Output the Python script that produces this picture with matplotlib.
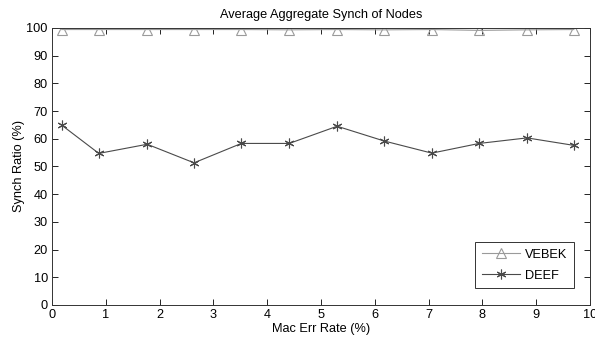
import numpy as np
import matplotlib
matplotlib.use('Agg')
import matplotlib.pyplot as plt

plt.rcParams['font.family'] = ['Liberation Sans', 'DejaVu Sans']

mac_err = [0.18, 0.87, 1.77, 2.64, 3.52, 4.41, 5.30, 6.17, 7.06, 7.94, 8.83, 9.70]
vebek = [99.4, 99.4, 99.4, 99.4, 99.4, 99.3, 99.4, 99.3, 99.4, 99.1, 99.3, 99.4]
deef = [64.9, 54.7, 58.0, 51.3, 58.3, 58.3, 64.5, 59.2, 54.8, 58.3, 60.3, 57.6]

FONT_SIZE = 9.2

fig = plt.figure(figsize=(5.95, 3.4), dpi=100)
ax = fig.add_axes([0.0874, 0.103, 0.9042, 0.815])

ax.plot(mac_err, vebek, color='#9a9a9a', lw=0.8, marker='^', markersize=6.5,
        markerfacecolor='none', markeredgecolor='#9a9a9a', markeredgewidth=0.8, label='VEBEK')
ax.plot(mac_err, deef, color='#4a4a4a', lw=0.8, marker=(6, 2, 0), markersize=7,
        markeredgecolor='#4a4a4a', markeredgewidth=0.8, label='DEEF')

ax.set_xlim(0, 10)
ax.set_ylim(0, 100)
ax.set_xticks(np.arange(0, 11, 1))
ax.set_yticks(np.arange(0, 101, 10))
ax.tick_params(direction='in', top=True, right=True, labelsize=FONT_SIZE, length=4, width=0.6, pad=3)
for s in ax.spines.values():
    s.set_linewidth(0.7)
    s.set_color('#333333')

ax.set_xlabel('Mac Err Rate (%)', fontsize=FONT_SIZE, labelpad=1)
ax.set_ylabel('Synch Ratio (%)', fontsize=FONT_SIZE, labelpad=1)
ax.set_title('Average Aggregate Synch of Nodes', fontsize=FONT_SIZE, pad=7)

leg = ax.legend(loc='lower right', bbox_to_anchor=(0.970, 0.061), borderaxespad=0,
                fontsize=FONT_SIZE, fancybox=False, framealpha=1, edgecolor='#333333',
                handlelength=3.0, handletextpad=0.4, borderpad=0.5, labelspacing=0.7)
leg.get_frame().set_linewidth(0.7)

fig.savefig('out.png', dpi=100)
